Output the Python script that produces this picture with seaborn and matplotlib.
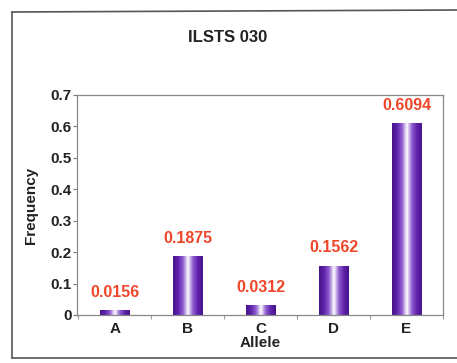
import numpy as np
import pandas as pd
import matplotlib
matplotlib.use("Agg")
import matplotlib.pyplot as plt
from matplotlib.colors import LinearSegmentedColormap
from matplotlib.lines import Line2D
import seaborn as sns

alleles = ["A", "B", "C", "D", "E"]
frequency = [0.0156, 0.1875, 0.0312, 0.1562, 0.6094]
value_labels = ["0.0156", "0.1875", "0.0312", "0.1562", "0.6094"]
y_ticks = [0, 0.1, 0.2, 0.3, 0.4, 0.5, 0.6, 0.7]
y_tick_labels = ["0", "0.1", "0.2", "0.3", "0.4", "0.5", "0.6", "0.7"]

sns.set_theme(style="white")
plt.rcParams["font.family"] = ["Liberation Sans", "DejaVu Sans"]
plt.rcParams["font.weight"] = "bold"

df = pd.DataFrame({"Allele": alleles, "Frequency": frequency})

fig = plt.figure(figsize=(4.57, 3.63), dpi=100)
fig.patch.set_facecolor("white")
ax = fig.add_axes([77 / 457, 1 - 315 / 363, (443 - 77) / 457, (315 - 95) / 363])

sns.barplot(data=df, x="Allele", y="Frequency", ax=ax, width=0.41,
            color="#5a22a0", saturation=1, edgecolor="none")

# cylinder-like shading: dark purple edges, white highlight in the middle
cyl = LinearSegmentedColormap.from_list(
    "cyl", ["#46148a", "#5e22aa", "#8e5cd0", "#ffffff", "#8e5cd0", "#5e22aa", "#46148a"])
grad = np.linspace(0, 1, 256).reshape(1, -1)
for patch in ax.patches:
    x0, y0 = patch.get_x(), patch.get_y()
    w, h = patch.get_width(), patch.get_height()
    im = ax.imshow(grad, cmap=cyl, aspect="auto", extent=[x0, x0 + w, y0, y0 + h],
                   zorder=patch.get_zorder() + 0.1, interpolation="bilinear")
    im.set_clip_path(patch)

ax.set_xlim(-0.52, 4.48)
ax.set_ylim(0, 0.7)
ax.set_yticks(y_ticks)
ax.set_yticklabels(y_tick_labels, fontsize=11, fontweight="bold", color="#222222")
ax.set_xticks(range(len(alleles)))
ax.set_xticklabels(alleles, fontsize=11, fontweight="bold", color="#222222")
ax.set_xticks(np.arange(-0.5, 4.6, 1.0), minor=True)
ax.tick_params(axis="y", which="major", direction="out", length=3, width=0.8,
               color="#777777", pad=1, left=True)
ax.tick_params(axis="x", which="major", length=0, pad=5)
ax.tick_params(axis="x", which="minor", direction="out", length=3, width=0.8,
               color="#999999", bottom=True)

ax.set_xlabel("Allele", fontsize=11, fontweight="bold", color="#222222", labelpad=0)
ax.set_ylabel("Frequency", fontsize=11, fontweight="bold", color="#222222", labelpad=9)

for side in ["left", "bottom", "top", "right"]:
    ax.spines[side].set_visible(True)
    ax.spines[side].set_color("#888888")
    ax.spines[side].set_linewidth(0.9)

for i, (val, txt) in enumerate(zip(frequency, value_labels)):
    ax.annotate(txt, xy=(i, val), xytext=(0, 13), textcoords="offset points",
                ha="center", va="center", fontsize=11.5, fontweight="bold",
                color="#f0462a")

fig.text(228 / 457, 1 - 37 / 363, "ILSTS 030", ha="center", va="center",
         fontsize=12, fontweight="bold", color="#222222")

# outer frame around the chart
frame_kw = dict(color="#555555", linewidth=1.2, transform=fig.transFigure)
fig.lines.append(Line2D([12 / 457, 12 / 457], [1 - 12 / 363, 1 - 358 / 363], **frame_kw))
fig.lines.append(Line2D([12 / 457, 1.0], [1 - 12 / 363, 1 - 10 / 363], **frame_kw))
fig.lines.append(Line2D([12 / 457, 1.0], [1 - 358 / 363, 1 - 358 / 363], **frame_kw))

fig.savefig("out.png", dpi=100)
